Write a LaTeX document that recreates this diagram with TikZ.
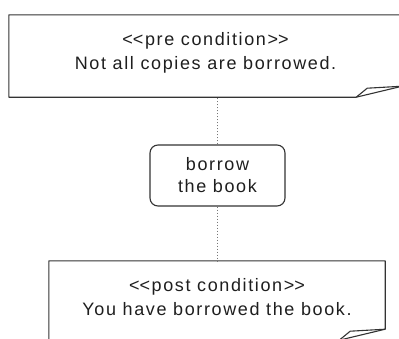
\documentclass[tikz,border=0pt]{standalone}
\usepackage{fontspec}
\setmainfont{Liberation Sans}[LetterSpace=9]
\usetikzlibrary{positioning}
\definecolor{NoteLine}{HTML}{333333}
\definecolor{LinkGray}{HTML}{777777}
\definecolor{InkDark}{HTML}{1E1E1E}

\tikzset{
  notebox/.style={minimum width=#1, inner sep=0pt},
  notetext/.style={align=center, text=InkDark, font=\fontsize{18}{24}\selectfont},
  actionbox/.style={draw=NoteLine, line width=1.1pt, rounded corners=8pt, minimum width=135pt, minimum height=61pt, align=center, text=InkDark, font=\fontsize{18}{22}\selectfont},
  noteline/.style={draw=NoteLine, line width=1.1pt, line join=round},
  link/.style={draw=LinkGray, line width=1pt, dotted}
}

\begin{document}
\begin{tikzpicture}[x=1pt, y=-1pt]
  \useasboundingbox (0,0) rectangle (399,338);
  % pre / post condition notes and the action between them
  \node[notebox=393pt, minimum height=82pt, label={[notetext, yshift=3pt]center:<\kern0pt<pre condition>\kern0pt>\\Not all copies are borrowed.}] (pre) at (205.5,56) {};
  \node[actionbox] (act) at (217.5,175.5) {borrow\\the book};
  \node[notebox=336pt, minimum height=79pt, label={[notetext, yshift=3pt]center:<\kern0pt<post condition>\kern0pt>\\You have borrowed the book.}] (post) at (217,300.5) {};

  % note outlines with the curled corner
  \draw[noteline] (pre.south west) -- (pre.north west) -- (pre.north east) -- ([yshift=11pt]pre.south east) -- ([xshift=-46pt]pre.south east) -- cycle;
  \draw[noteline] ([xshift=-46pt]pre.south east) -- ([xshift=-35pt, yshift=9pt]pre.south east) -- ([yshift=11pt]pre.south east);
  \draw[noteline] (post.south west) -- (post.north west) -- (post.north east) -- ([yshift=11pt]post.south east) -- ([xshift=-46pt]post.south east) -- cycle;
  \draw[noteline] ([xshift=-46pt]post.south east) -- ([xshift=-35pt, yshift=9pt]post.south east) -- ([yshift=11pt]post.south east);

  \draw[link] (act.north) -- (act.north |- pre.south);
  \draw[link] (act.south) -- (act.south |- post.north);
\end{tikzpicture}
\end{document}
